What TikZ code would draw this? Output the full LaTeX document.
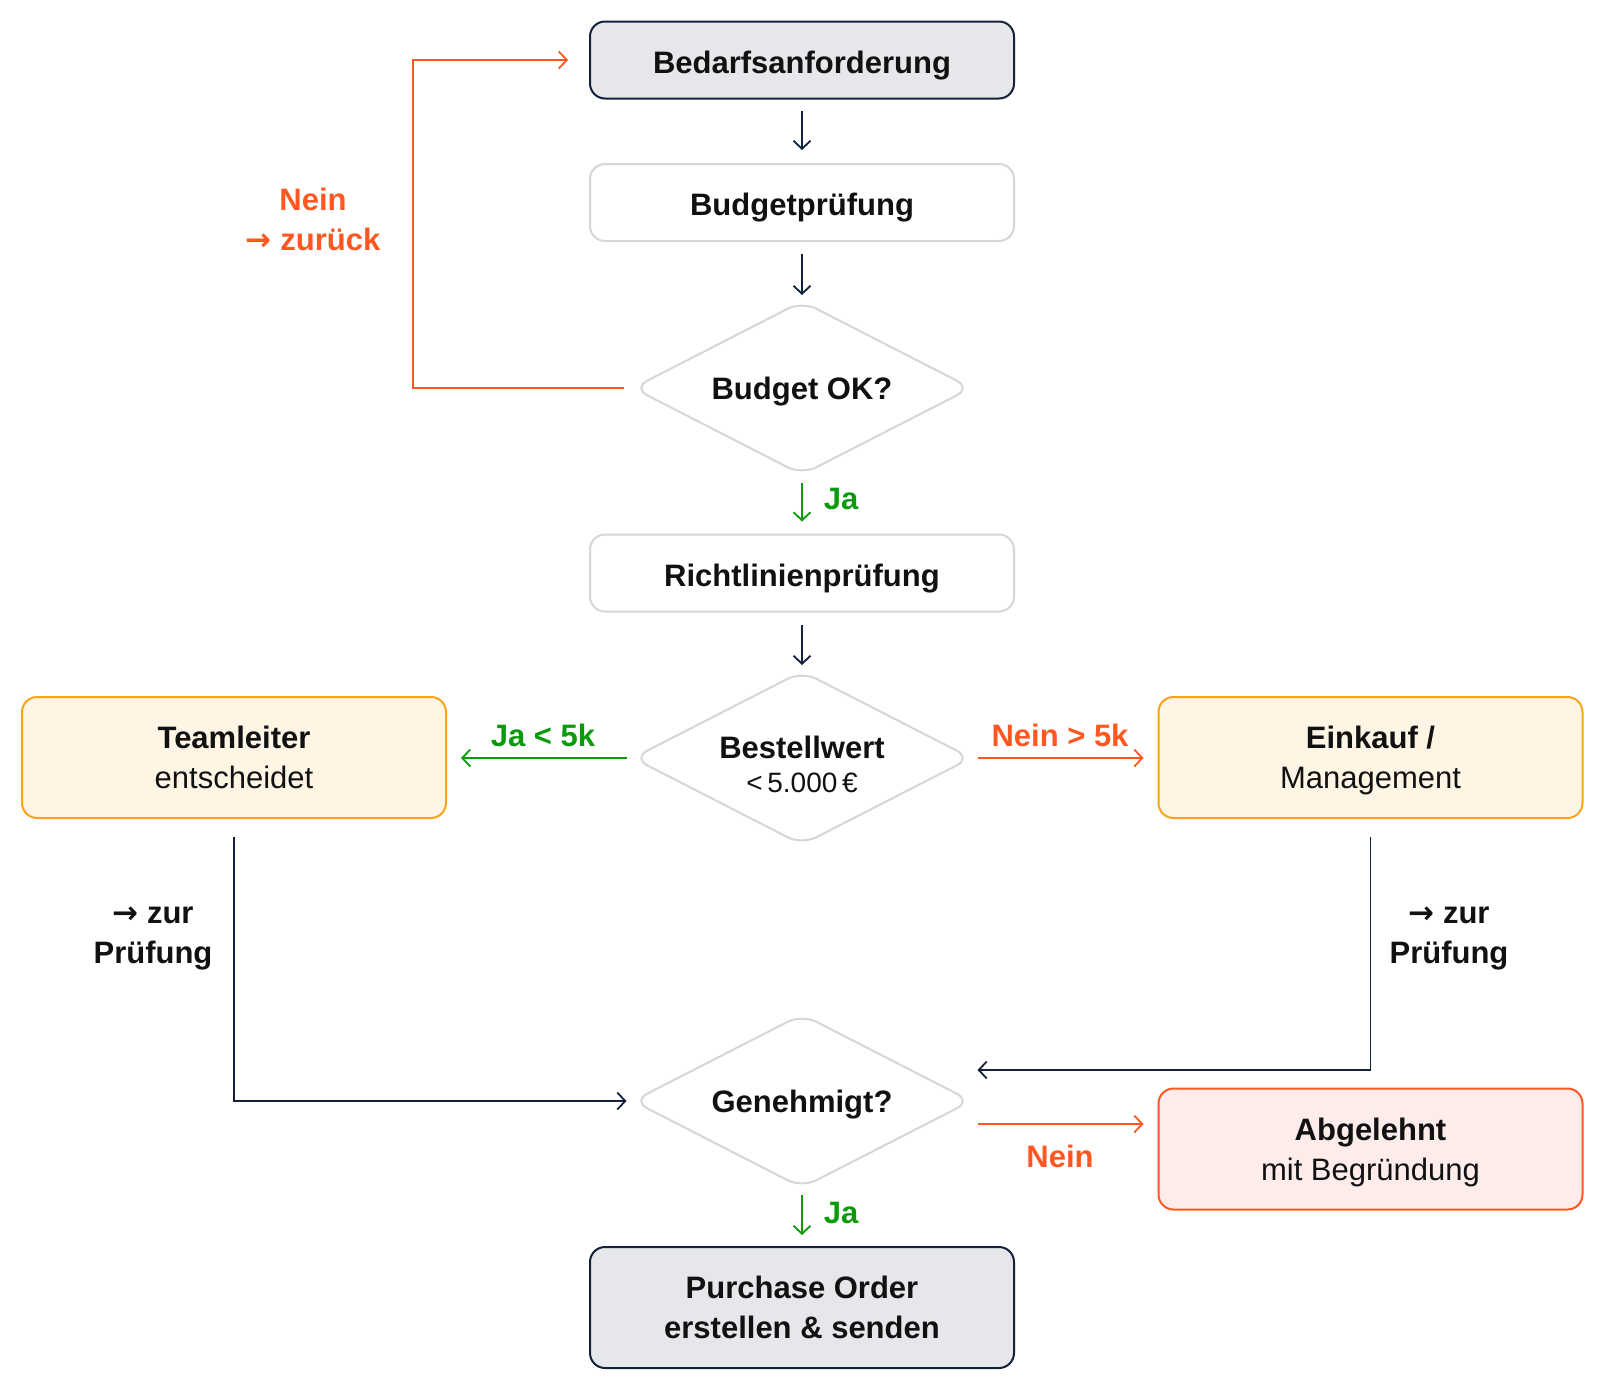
\documentclass[tikz,border=0pt]{standalone}
\usepackage{fontspec}
\setmainfont{Liberation Sans}
\newfontfamily\arrfont{DejaVu Sans}
\usetikzlibrary{shapes.geometric,arrows.meta,calc}
\definecolor{navy}{HTML}{13223A}
\definecolor{lgray}{HTML}{D3D6DB}
\definecolor{boxgray}{HTML}{E6E7EB}
\definecolor{orng}{HTML}{FF5722}
\definecolor{grn}{HTML}{0A9A0A}
\definecolor{amber}{HTML}{F9A51A}
\definecolor{cream}{HTML}{FFF5E5}
\definecolor{pinkbg}{HTML}{FDECEA}
\definecolor{txt}{HTML}{111111}
\newcommand{\rarr}{{\arrfont\bfseries →}}
\tikzset{
  base/.style={rectangle, rounded corners=15pt, minimum width=424pt, line width=2pt,
     align=center, text=txt, font=\fontsize{31}{40}\selectfont, inner sep=0pt},
  darkbox/.style={base, draw=navy, fill=boxgray, minimum height=77pt, text height=26pt, text depth=0pt},
  lightbox/.style={base, draw=lgray, fill=white, minimum height=77pt, text height=26pt, text depth=0pt},
  twoline/.style={minimum height=121pt, text height=62pt, text depth=0pt},
  darkbig/.style={base, twoline, draw=navy, fill=boxgray},
  ambbox/.style={base, twoline, draw=amber, fill=cream},
  redbox/.style={base, twoline, draw=orng, fill=pinkbg},
  dia/.style={diamond, minimum width=339pt, minimum height=174pt, inner sep=0pt,
     draw=lgray, line width=2pt, rounded corners=16pt, fill=white},
  dtext/.style={align=center, text=txt, inner sep=0pt, font=\fontsize{31}{40}\selectfont\bfseries},
  conn/.style={-{Straight Barb[length=8pt,width=17pt,line width=1.8pt]}, line width=1.8pt},
  lbl/.style={align=center, font=\fontsize{31}{40}\selectfont\bfseries, inner sep=0pt},
}
\begin{document}
\begin{tikzpicture}[x=1pt,y=-1pt]
\useasboundingbox (0,0) rectangle (1604,1390);
% nodes
\node[darkbox] (bed) at (802,60) {\bfseries Bedarfsanforderung};
\node[lightbox] (bud) at (802,202.5) {\bfseries Budgetprüfung};
\node[dia] (bok) at (802,388) {};
\node[dtext, text depth=0pt] (bokt) at (bok) {Budget OK?};
\node[lightbox] (ric) at (802,573) {\bfseries Richtlinienprüfung};
\node[dia] (best) at (802,758) {};
\node[dtext] (bestt) at ($(best)+(0,6)$) {Bestellwert\\[-6pt]{\mdseries\fontsize{28}{32}\selectfont <\,5.000\,€}};
\node[ambbox] (tl) at (234,757.5) {{\bfseries Teamleiter}\\entscheidet};
\node[ambbox] (ek) at (1370.5,757.5) {{\bfseries Einkauf /}\\Management};
\node[dia] (gen) at (802,1101) {};
\node[dtext, text depth=0pt] (gent) at (gen) {Genehmigt?};
\node[redbox] (ab) at (1370.5,1149) {{\bfseries Abgelehnt}\\mit Begründung};
\node[darkbig] (po) at (802,1307.5) {\bfseries Purchase Order\\\bfseries erstellen \& senden};
% labels
\node[lbl, text=orng] (lnein) at (313,219) {Nein\\\rarr\ zurück};
\node[lbl, text=grn] (lja1) at (841,499) {Ja};
\node[lbl, text=grn] (ljak) at (543,735) {Ja < 5k};
\node[lbl, text=orng] (lnk) at (1060,735) {Nein > 5k};
\node[lbl, text=txt] (lzl) at (153,938) {\rarr\ zur\\Prüfung};
\node[lbl, text=txt] (lzr) at (1449,938) {\rarr\ zur\\Prüfung};
\node[lbl, text=orng] (lnein2) at (1060,1156) {Nein};
\node[lbl, text=grn] (lja2) at (841,1213) {Ja};
% connectors
\draw[conn, navy, shorten <=11pt, shorten >=13pt] (bed) -- (bud);
\draw[conn, navy, shorten <=12pt, shorten >=5pt] (bud) -- (bok);
\draw[conn, grn, shorten <=7pt, shorten >=12pt] (bok) -- (ric);
\draw[conn, navy, shorten <=12pt, shorten >=5pt] (ric) -- (best);
\coordinate (fb) at (413,388);
\draw[conn, orng, shorten <=8pt, shorten >=21pt] (bok.west) -- (fb) |- (bed.west);
\draw[conn, grn, shorten <=5pt, shorten >=14pt] (best.west) -- (tl.east |- best.west);
\draw[conn, orng, shorten <=5pt, shorten >=14pt] (best.east) -- (ek.west |- best.east);
\draw[conn, navy, shorten <=18pt, shorten >=5pt] (tl.south) |- (gen.west);
\coordinate (ekin) at ($(gen.east)+(5,-31)$);
\draw[conn, navy, shorten <=18pt] (ek.south) |- (ekin);
\coordinate (nst) at ($(gen.east)+(5,23)$);
\draw[conn, orng, shorten >=14pt] (nst) -- (ab.west |- nst);
\draw[conn, grn, shorten <=6pt, shorten >=11pt] (gen) -- (po);
\end{tikzpicture}
\end{document}
